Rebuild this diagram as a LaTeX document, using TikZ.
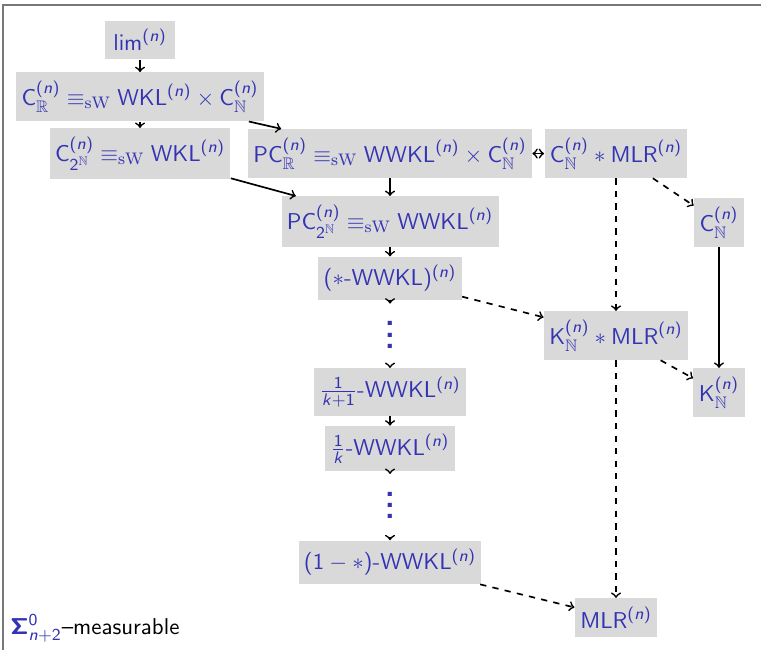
\documentclass[11pt,tikz,border=0pt]{standalone}
\usepackage{amsmath,amssymb}
\usetikzlibrary{arrows,positioning}
\SetSymbolFont{operators}{normal}{OT1}{cmss}{m}{n}
\SetSymbolFont{operators}{bold}{OT1}{cmss}{bx}{n}
\SetSymbolFont{letters}{normal}{OT1}{cmss}{m}{sl}
\definecolor{structblue}{RGB}{51,51,179}
\definecolor{frameGray}{RGB}{120,120,120}
\tikzstyle{wNode} = [rectangle, fill=black!15, text=structblue, inner ysep=4pt, inner xsep=2.6pt, font=\sffamily]
\tikzstyle{dotNode} = [text=structblue, minimum height=1.05cm, inner sep=0pt, font=\sffamily]
\tikzstyle{arrow} = [thick,->]
\tikzstyle{arrowD} = [thick,->,dashed]
\tikzstyle{arrowBoth} = [thick,<->]
\newcommand{\sWeq}{\equiv_{\text{\rmfamily sW}}}
\newcommand{\sqdots}{\vbox{\baselineskip=5.4pt\lineskiplimit=-20pt\hbox{\Huge.}\hbox{\Huge.}\hbox{\Huge.}}}

\begin{document}
\begin{tikzpicture}[node distance=0.955cm]
    \useasboundingbox (0,0) rectangle (12.8,-10.933);
    \draw [frameGray, line width=0.7pt] (12.8,-0.084) -- (0.05,-0.084) -- (0.05,-10.933);

    \node (lim) [wNode, inner xsep=4pt] at (2.355,-0.673) {$\mathsf{lim}^{(n)}$};
    \node (cR) [wNode, below of=lim] {$\mathsf{C}^{(n)}_{\mathbb{R}} \sWeq \mathsf{WKL}^{(n)} \times \mathsf{C}^{(n)}_{\mathbb{N}}$};
    \node (cTwoN) [wNode, below of=cR] {$\mathsf{C}^{(n)}_{2^{\mathbb{N}}} \sWeq \mathsf{WKL}^{(n)}$};
    \node (pcR) [wNode, right of=cTwoN, xshift=3.25cm] {$\mathsf{PC}^{(n)}_{\mathbb{R}} \sWeq \mathsf{WWKL}^{(n)} \times \mathsf{C}^{(n)}_{\mathbb{N}}$};
    \node (cNmlr) [wNode, right of=pcR, xshift=2.846cm] {$\mathsf{C}^{(n)}_{\mathbb{N}} \ast \mathsf{MLR}^{(n)}$};
    \node (pcTwoN) [wNode, below of=pcR, yshift=-0.19cm] {$\mathsf{PC}^{(n)}_{2^{\mathbb{N}}} \sWeq \mathsf{WWKL}^{(n)}$};
    \node (cN) [wNode, below of=cNmlr, xshift=1.732cm, yshift=-0.206cm] {$\mathsf{C}^{(n)}_{\mathbb{N}}$};
    \node (starW) [wNode, below of=pcTwoN] {($\ast$-WWKL)$^{(n)}$};
    \node (vdotsA) [dotNode, below of=starW] {\sqdots};
    \node (kWW) [wNode, below of=vdotsA] {$\frac{1}{k+1}$-WWKL$^{(n)}$};
    \node (kW) [wNode, below of=kWW] {$\frac{1}{k}$-WWKL$^{(n)}$};
    \node (vdotsB) [dotNode, below of=kW] {\sqdots};
    \node (oneStar) [wNode, below of=vdotsB] {$(1-\ast)$-WWKL$^{(n)}$};
    \node (kNmlr) [wNode, below of=cNmlr, yshift=-2.106cm] {$\mathsf{K}^{(n)}_{\mathbb{N}} \ast \mathsf{MLR}^{(n)}$};
    \node (kN) [wNode, below of=cN, yshift=-1.904cm] {$\mathsf{K}^{(n)}_{\mathbb{N}}$};
    \node (mlr) [wNode, below of=kNmlr, yshift=-3.788cm] {$\mathsf{MLR}^{(n)}$};
    \node (sigma) [anchor=west, inner sep=0pt, font=\sffamily] at (0.168,-10.563) {\textcolor{structblue}{$\boldsymbol{\Sigma}^0_{n+2}$}--measurable};

    \draw [arrow] (lim) -- (cR);
    \draw [arrow] (cR) -- (cTwoN);
    \draw [arrow] (cR) -- (pcR);
    \draw [arrow] (cTwoN) -- (pcTwoN);
    \draw [arrow] (pcR) -- (pcTwoN);
    \draw [arrowBoth] (pcR) -- (cNmlr);
    \draw [arrowD] (cNmlr) -- (cN);
    \draw [arrowD] (cNmlr) -- (kNmlr);
    \draw [arrow] (cN) -- (kN);
    \draw [arrow] (pcTwoN) -- (starW);
    \draw [arrowD] (starW) -- (kNmlr);
    \draw [arrow] (starW) -- (vdotsA);
    \draw [arrow] (vdotsA) -- (kWW);
    \draw [arrow] (kWW) -- (kW);
    \draw [arrow] (kW) -- (vdotsB);
    \draw [arrow] (vdotsB) -- (oneStar);
    \draw [arrowD] (kNmlr) -- (kN);
    \draw [arrowD] (kNmlr) -- (mlr);
    \draw [arrowD] (oneStar) -- (mlr);
\end{tikzpicture}
\end{document}
